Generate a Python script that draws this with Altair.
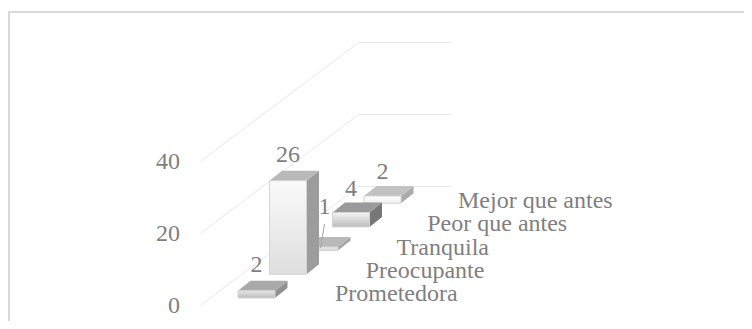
import altair as alt
import pandas as pd

categories = ["Prometedora", "Preocupante", "Tranquila", "Peor que antes", "Mejor que antes"]
values = [2, 26, 1, 4, 2]
ticks = [0, 20, 40]

# styles, one per bar
front_top = ["#e6e6e6", "#fafafa", "#efefef", "#f4f4f4", "#ffffff"]
front_bottom = ["#bdbdbd", "#dedede", "#d0d0d0", "#bcbcbc", "#f0f0f0"]
top_fill = ["#a9a9a9", "#b9b9b9", "#b9b9b9", "#9a9a9a", "#c2c2c2"]
side_fill = ["#929292", "#9c9c9c", "#a3a3a3", "#777777", "#ababab"]

# projection of the 3D scene
FX, FY = 201, 305      # floor front corner
DX, DY = 31.5, 23.7    # shift per category in depth
PX = 3.6               # pixels per unit of value
GX, GY = 37, 7         # bar offset in its cell
BW = 37                # bar width
OX, OY = 12.5, 10      # bar depth
WALL = 92
TEXT = "#7f7f7f"
SERIF = "Liberation Serif"

df = pd.DataFrame({"cat": categories, "v": values, "i": range(len(values))})
tick_df = pd.DataFrame({"v": ticks})

xs = alt.Scale(domain=[8, 744], nice=False, zero=False)
ys = alt.Scale(domain=[321, 8], nice=False, zero=False)
X = alt.X("x:Q", scale=xs, axis=None)
Y = alt.Y("y:Q", scale=ys, axis=None)

bx = f"({FX}+{GX}+{DX}*datum.i)"
by = f"({FY}-{GY}-{DY}*datum.i)"
top = f"({by}-{PX}*datum.v)"

base = alt.Chart(df)

grid = (
    alt.Chart(tick_df)
    .transform_calculate(k="[0,1,2]")
    .transform_flatten(["k"])
    .transform_calculate(
        x=f"{FX}+{DX}*5*min(datum.k,1)+{WALL}*max(datum.k-1,0)",
        y=f"{FY}-{DY}*5*min(datum.k,1)-{PX}*datum.v",
    )
    .mark_line(color="#e8e8e8", strokeWidth=1)
    .encode(X, Y, detail="v:N", order="k:Q")
)

tick_labels = (
    alt.Chart(tick_df)
    .transform_calculate(x="180", y=f"{FY}+1-{PX}*datum.v", t="''+datum.v")
    .mark_text(align="right", baseline="middle", font=SERIF, fontSize=24, color=TEXT)
    .encode(X, Y, text="t:N")
)

layers = [grid, tick_labels]

for i in [4, 3, 2, 1, 0]:
    row = base.transform_filter(f"datum.i=={i}")
    side = (
        row.transform_calculate(t="[0,1]")
        .transform_flatten(["t"])
        .transform_calculate(
            x=f"{bx}+{BW}+{OX}*datum.t",
            y=f"{top}-{OY}*datum.t",
            y2=f"{by}-{OY}*datum.t",
        )
        .mark_area(color=side_fill[i], orient="vertical")
        .encode(X, Y, y2="y2:Q")
    )
    lid = (
        row.transform_calculate(t="[0,1]")
        .transform_flatten(["t"])
        .transform_calculate(
            x=f"{bx}+{OX}*datum.t",
            x2=f"{bx}+{BW}+{OX}*datum.t",
            y=f"{top}-{OY}*datum.t",
        )
        .mark_area(color=top_fill[i], orient="horizontal")
        .encode(X, Y, x2="x2:Q")
    )
    front = (
        row.transform_calculate(x=f"{bx}", x2=f"{bx}+{BW}", y=f"{top}", y2=f"{by}")
        .mark_rect(
            color=alt.LinearGradient(
                gradient="linear",
                x1=0, y1=0, x2=0, y2=1,
                stops=[
                    alt.GradientStop(color=front_top[i], offset=0),
                    alt.GradientStop(color=front_bottom[i], offset=1),
                ],
            ),
            stroke="#d4d4d4",
            strokeWidth=1,
        )
        .encode(X, Y, x2="x2:Q", y2="y2:Q")
    )
    layers += [side, lid, front]

# data labels, the small Tranquila bar has its label pulled up on a leader line
lift = "(datum.cat=='Tranquila'?40:(datum.i>2?24:26))"
data_labels = (
    base.transform_calculate(
        x=f"{bx}+{BW}/2+(datum.cat=='Tranquila'?5:0)",
        y=f"{top}-{lift}",
        t="''+datum.v",
    )
    .mark_text(align="center", baseline="middle", font=SERIF, fontSize=24, color=TEXT)
    .encode(X, Y, text="t:N")
)
leader = (
    base.transform_filter("datum.cat=='Tranquila'")
    .transform_calculate(
        x=f"{bx}+{BW}/2+5",
        x2=f"{bx}+{BW}/2+1",
        y=f"{top}-23",
        y2=f"{top}+1",
    )
    .mark_rule(color="#a6a6a6", strokeWidth=1)
    .encode(X, Y, x2="x2:Q", y2="y2:Q")
)
cat_labels = (
    base.transform_calculate(
        x=f"{bx}+97-0.75*datum.i",
        y=f"{by}-4+0.5*datum.i",
    )
    .mark_text(align="left", baseline="middle", font=SERIF, fontSize=24, color=TEXT)
    .encode(X, Y, text="cat:N")
)

frame_top = (
    alt.Chart(df.head(1)).mark_rule(color="#d9d9d9", strokeWidth=2)
    .encode(x=alt.value(0), x2=alt.value(736), y=alt.value(4))
)
frame_left = (
    alt.Chart(df.head(1)).mark_rule(color="#d9d9d9", strokeWidth=2)
    .encode(x=alt.value(1), y=alt.value(4), y2=alt.value(313))
)

layers += [leader, data_labels, cat_labels, frame_top, frame_left]

chart = (
    alt.layer(*layers)
    .properties(
        width=736,
        height=313,
        padding=0,
        background="white",
        autosize=alt.AutoSizeParams(type="none"),
    )
    .configure_view(stroke=None)
)

chart.save("out.html", embed_options={"renderer": "svg", "actions": False})
